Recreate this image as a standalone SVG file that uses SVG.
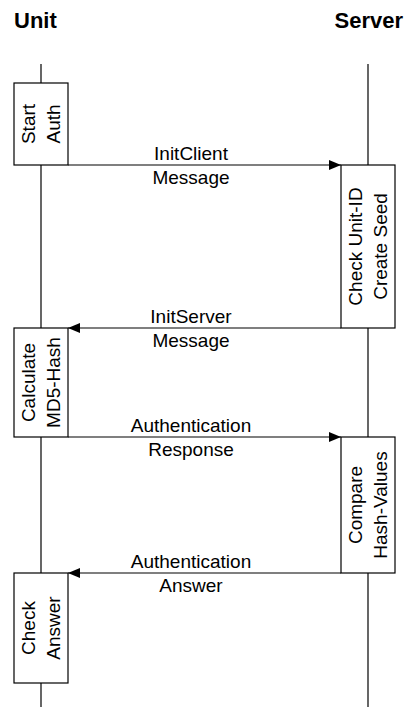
<svg xmlns="http://www.w3.org/2000/svg" width="406" height="707" viewBox="0 0 406 707">
<style>
text{font-family:"Liberation Sans",Arial,sans-serif;fill:#000}
.title{font-size:22px;font-weight:bold}
.lbl{font-size:19px;text-anchor:middle}
.life{stroke:#000;stroke-width:1.2;fill:none}
.box{fill:#fff;stroke:#000;stroke-width:1.2}
.msg{stroke:#000;stroke-width:1.2;fill:none;marker-end:url(#ah)}
</style>
<defs>
<marker id="ah" markerUnits="userSpaceOnUse" markerWidth="13" markerHeight="10" refX="12" refY="5" orient="auto">
<path d="M0,0 L12,5 L0,10 Z" fill="#000"/>
</marker>
</defs>
<g id="unit">
<text class="title" x="14" y="28">Unit</text>
<line class="life" x1="41" y1="64" x2="41" y2="707"/>
</g>
<g id="server">
<text class="title" x="403" y="28" text-anchor="end">Server</text>
<line class="life" x1="368" y1="64" x2="368" y2="707"/>
</g>
<g id="start-auth">
<rect class="box" x="14" y="83" width="54" height="82"/>
<text class="lbl" transform="translate(41,124) rotate(-90)"><tspan x="0" y="-6">Start</tspan><tspan x="0" y="19">Auth</tspan></text>
</g>
<g id="check-unit-id">
<rect class="box" x="341" y="165" width="54" height="163"/>
<text class="lbl" transform="translate(368,246.5) rotate(-90)"><tspan x="0" y="-6">Check Unit-ID</tspan><tspan x="0" y="19">Create Seed</tspan></text>
</g>
<g id="calculate">
<rect class="box" x="14" y="328" width="54" height="109"/>
<text class="lbl" transform="translate(41,382.5) rotate(-90)"><tspan x="0" y="-6">Calculate</tspan><tspan x="0" y="19">MD5-Hash</tspan></text>
</g>
<g id="compare">
<rect class="box" x="341" y="437" width="54" height="136"/>
<text class="lbl" transform="translate(368,505) rotate(-90)"><tspan x="0" y="-6">Compare</tspan><tspan x="0" y="19">Hash-Values</tspan></text>
</g>
<g id="check-answer">
<rect class="box" x="14" y="573" width="54" height="110"/>
<text class="lbl" transform="translate(41,628) rotate(-90)"><tspan x="0" y="-6">Check</tspan><tspan x="0" y="19">Answer</tspan></text>
</g>
<g id="connectors">
<line class="msg" x1="68" y1="165" x2="341" y2="165"/>
<text class="lbl" x="191" y="160">InitClient</text>
<text class="lbl" x="191" y="184">Message</text>
<line class="msg" x1="341" y1="328" x2="68" y2="328"/>
<text class="lbl" x="191" y="323">InitServer</text>
<text class="lbl" x="191" y="347">Message</text>
<line class="msg" x1="68" y1="437" x2="341" y2="437"/>
<text class="lbl" x="191" y="432">Authentication</text>
<text class="lbl" x="191" y="456">Response</text>
<line class="msg" x1="341" y1="573" x2="68" y2="573"/>
<text class="lbl" x="191" y="568">Authentication</text>
<text class="lbl" x="191" y="592">Answer</text>
</g>
</svg>
